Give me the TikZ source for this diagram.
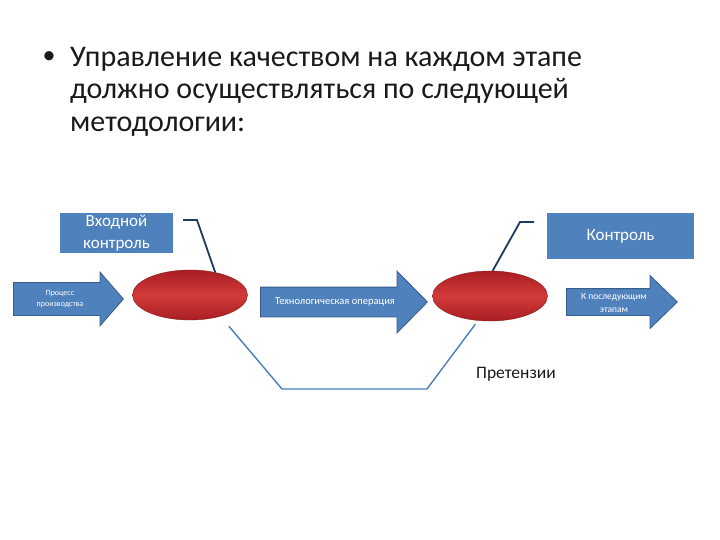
\documentclass[tikz,border=0pt]{standalone}
\usepackage{fontspec}
\setmainfont{Carlito}
\usepackage{xcolor}
\usepackage{tikz}
\usetikzlibrary{positioning,shapes.geometric,shapes.arrows,calc}
\definecolor{qcBlue}{HTML}{4F81BD}
\definecolor{qcBlueD}{HTML}{385D8A}
\definecolor{qcNavy}{HTML}{1F3A5F}
\definecolor{qcLine}{HTML}{4A7EBB}
\definecolor{qcRed}{HTML}{D23A3A}
\definecolor{qcRedD}{HTML}{A81E22}
\definecolor{qcText}{HTML}{1A1A1A}
\definecolor{qcWhite}{HTML}{FFFFFF}
\tikzset{
  qc-box/.style={
    fill=qcBlue, draw=none, text=qcWhite, align=center,
    inner sep=0pt, font=\fontsize{17}{22}\selectfont
  },
  qc-arrow/.style={
    single arrow, fill=qcBlue, draw=qcBlueD, line width=0.8pt,
    inner xsep=0pt, anchor=tail
  },
  qc-atext/.style={text=qcWhite, align=center, inner sep=0pt},
  qc-stage/.style={
    ellipse, minimum width=115, minimum height=50, inner sep=0pt,
    draw=qcRedD!80!black, line width=0.4pt,
    top color=qcRedD, bottom color=qcRedD, middle color=qcRed
  },
  qc-callout/.style={draw=qcNavy, line width=1.8pt},
  qc-flow/.style={draw=qcLine, line width=1.4pt},
  qc-title/.style={font=\fontsize{30}{32.5}\selectfont, text=qcText,
    align=left, inner sep=0pt}
}

\begin{document}
\begin{tikzpicture}[x=1pt, y=-1pt]
\useasboundingbox (0,0) rectangle (720,540);

\node[qc-title, font=\fontsize{26}{30}\selectfont] (dot) at (49,58) {•};
\node[qc-title, anchor=north west] (title) at (70,47)
  {Управление качеством на каждом этапе\\
   должно осуществляться по следующей\\
   методологии:};

\node[qc-box, minimum width=113, minimum height=40] (inBox) at (116.5,233)
  {Входной\\контроль};
\node[qc-box, minimum width=147, minimum height=46] (outBox) at (620.5,236)
  {Контроль};

\node[qc-arrow, minimum height=110, inner ysep=16,
  single arrow head extend=10.5, single arrow tip angle=98] (prodArr) at (13,299) {};
\node[qc-atext, font=\fontsize{8}{11}\selectfont] (prodTxt) at (60,299)
  {Процесс\\производства};
\node[qc-arrow, minimum height=167, inner ysep=14.5,
  single arrow head extend=16, single arrow tip angle=91] (opArr) at (260,302) {};
\node[qc-atext, font=\fontsize{10.5}{13}\selectfont] (opTxt) at (335,302)
  {Технологическая операция};
\node[qc-arrow, minimum height=111, inner ysep=13,
  single arrow head extend=13, single arrow tip angle=88] (nextArr) at (566,302) {};
\node[qc-atext, font=\fontsize{9.5}{13}\selectfont] (nextTxt) at (614,303)
  {К последующим\\этапам};

\node[qc-stage] (stageA) at (190,295) {};
\node[qc-stage] (stageB) at (490,296) {};

\coordinate (inTail) at (183,220);
\coordinate (inKnee) at (197,220);
\coordinate (outTail) at (534,222);
\coordinate (outKnee) at (520,222);
\coordinate (fbL) at (282,389);
\coordinate (fbR) at (427,389);

\draw[qc-callout] (inTail) -- (inKnee) -- (stageA.42);
\draw[qc-callout] (outTail) -- (outKnee) -- (stageB.84);
\draw[qc-flow, shorten <=13pt, shorten >=4.5pt]
  (stageA.-35) -- (fbL) -- (fbR) -- (stageB.-116);

\node[font=\fontsize{17.5}{20}\selectfont, text=qcText, inner sep=0pt]
  (claims) at (516,374) {Претензии};
\end{tikzpicture}
\end{document}
